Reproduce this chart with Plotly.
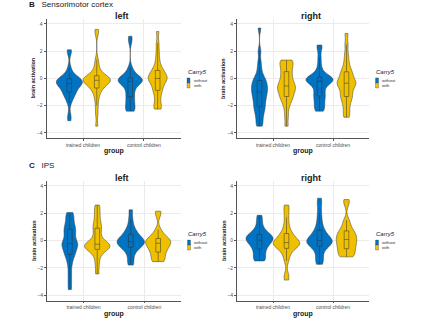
import plotly.graph_objects as go

W, H = 443, 322

groups = ["trained children", "control children"]
carry = ["without", "with"]
colors = {"without": "#0073C2", "with": "#EFC000"}

# Sensorimotor cortex, left
sm_left_trained_without = [-3.1, -2.7, -1.8, -1.5, -1.3, -1.15, -1.05, -0.95, -0.85, -0.7, -0.6, -0.5, -0.45, -0.4,
                           -0.35, -0.3, -0.25, -0.2, -0.15, -0.1, -0.05, 0.0, 0.05, 0.2, 0.4, 0.8, 1.9, 2.1]
sm_left_trained_with = [-3.5, -2.6, -2.0, -1.5, -1.2, -0.9, -0.8, -0.7, -0.55, -0.45, -0.35, -0.3, -0.25, -0.2, -0.15,
                        -0.12, -0.1, -0.08, -0.05, 0.0, 0.05, 0.1, 0.2, 0.3, 0.45, 0.7, 1.0, 1.4, 3.3, 3.6]
sm_left_control_without = [-2.4, -2.35, -2.2, -2.0, -1.8, -1.6, -1.4, -1.2, -1.0, -0.8, -0.6, -0.45, -0.35, -0.22,
                           -0.2, -0.18, -0.15, -0.1, -0.05, 0.0, 0.05, 0.1, 0.3, 0.5, 0.8, 2.7, 3.1]
sm_left_control_with = [-2.25, -2.2, -2.0, -1.7, -1.4, -1.1, -0.9, -0.8, -0.6, -0.4, -0.3, -0.2, -0.1, 0.0, 0.05,
                        0.1, 0.15, 0.25, 0.4, 0.55, 0.6, 0.8, 1.1, 1.5, 2.0, 2.6, 3.45]
# Sensorimotor cortex, right
sm_right_trained_without = [-3.5, -3.3, -3.0, -2.7, -2.5, -2.3, -2.1, -2.0, -1.8, -1.6, -1.5, -1.35, -1.2, -1.05,
                            -0.95, -0.85, -0.7, -0.6, -0.5, -0.35, -0.2, -0.1, 0.05, 0.3, 0.7, 1.2, 2.0, 3.7]
sm_right_trained_with = [-3.5, -2.8, -2.2, -1.8, -1.6, -1.4, -1.25, -1.1, -0.95, -0.8, -0.7, -0.6, -0.5, -0.35,
                         -0.2, 0.0, 0.2, 0.4, 0.6, 0.8, 1.0, 1.2, 1.3, 1.35]
sm_right_control_without = [-2.4, -2.3, -2.1, -1.9, -1.7, -1.5, -1.3, -1.2, -1.0, -0.8, -0.6, -0.4, -0.3, -0.2,
                            -0.15, -0.1, -0.08, -0.05, 0.0, 0.05, 0.1, 0.2, 0.5, 0.9, 1.5, 2.2, 2.45]
sm_right_control_with = [-2.85, -2.6, -2.2, -1.9, -1.6, -1.4, -1.3, -1.1, -0.9, -0.7, -0.55, -0.45, -0.35, -0.3,
                         -0.2, -0.05, 0.1, 0.3, 0.45, 0.6, 0.9, 1.3, 1.8, 2.5, 3.3]
# IPS, left
ips_left_trained_without = [-3.6, -3.0, -2.4, -1.8, -1.4, -1.1, -0.95, -0.8, -0.6, -0.45, -0.3, -0.25, -0.2, 0.0,
                            0.2, 0.4, 0.6, 0.75, 0.9, 1.1, 1.3, 1.6, 1.85, 2.05]
ips_left_trained_with = [-2.45, -1.8, -1.3, -0.9, -0.75, -0.65, -0.55, -0.45, -0.4, -0.35, -0.3, -0.25, -0.2, 0.0,
                         0.3, 0.6, 0.9, 1.1, 1.4, 1.8, 2.2, 2.6]
ips_left_control_without = [-1.8, -1.5, -1.1, -0.8, -0.6, -0.5, -0.4, -0.3, -0.2, -0.15, -0.1, -0.05, 0.0, 0.1,
                            0.2, 0.3, 0.45, 0.6, 0.8, 1.1, 1.6, 2.25]
ips_left_control_with = [-1.55, -1.5, -1.4, -1.2, -1.0, -0.85, -0.7, -0.6, -0.5, -0.4, -0.25, -0.15, -0.12, -0.08,
                         0.0, 0.1, 0.15, 0.3, 0.5, 0.8, 1.9, 2.15]
# IPS, right
ips_right_trained_without = [-1.5, -1.45, -1.3, -1.1, -0.9, -0.7, -0.55, -0.4, -0.3, -0.15, -0.05, 0.0, 0.05, 0.15,
                             0.2, 0.25, 0.3, 0.4, 0.5, 0.6, 0.8, 1.1, 1.5, 1.85]
ips_right_trained_with = [-2.9, -2.5, -1.5, -1.1, -0.8, -0.6, -0.5, -0.4, -0.3, -0.25, -0.2, -0.15, -0.1, 0.0, 0.1,
                          0.25, 0.4, 0.55, 0.8, 1.2, 1.7, 2.2, 2.6]
ips_right_control_without = [-1.75, -1.5, -1.2, -0.9, -0.6, -0.45, -0.35, -0.25, -0.15, -0.1, -0.05, 0.0, 0.1, 0.2,
                             0.3, 0.45, 0.6, 0.8, 1.1, 1.5, 2.0, 2.6, 3.1]
ips_right_control_with = [-1.2, -1.15, -1.05, -0.9, -0.75, -0.6, -0.45, -0.35, -0.25, -0.1, 0.05, 0.1, 0.2, 0.35,
                          0.5, 0.55, 0.7, 0.9, 1.2, 1.5, 2.7, 3.0]

panel_titles = ["left", "right", "left", "right"]
panel_data = [
    {"without": [sm_left_trained_without, sm_left_control_without],
     "with": [sm_left_trained_with, sm_left_control_with]},
    {"without": [sm_right_trained_without, sm_right_control_without],
     "with": [sm_right_trained_with, sm_right_control_with]},
    {"without": [ips_left_trained_without, ips_left_control_without],
     "with": [ips_left_trained_with, ips_left_control_with]},
    {"without": [ips_right_trained_without, ips_right_control_without],
     "with": [ips_right_trained_with, ips_right_control_with]},
]
y_ticks = [-4, -2, 0, 2, 4]


def px_x(p):
    return p / W


def px_y(p):
    return 1 - p / H


# panel frames in pixels: (left, right, top, bottom)
frames = [(46.5, 180.5, 18.5, 138.4), (237.0, 369.0, 18.5, 138.4),
          (47.0, 181.0, 180.5, 300.5), (237.0, 369.0, 180.5, 300.5)]

fig = go.Figure()
axis_font = dict(family="Liberation Sans, Arial", size=5, color="#4D4D4D")

for i, (data, frame) in enumerate(zip(panel_data, frames)):
    k = "" if i == 0 else str(i + 1)
    for c in carry:
        xs, ys = [], []
        for g, vals in zip(groups, data[c]):
            xs += [g] * len(vals)
            ys += vals
        fig.add_trace(go.Violin(
            x=xs, y=ys, name=c, xaxis="x" + k, yaxis="y" + k,
            alignmentgroup="p" + str(i), offsetgroup=c,
            fillcolor=colors[c], line=dict(color="#3A3A3A", width=0.5), opacity=1,
            scalegroup="p" + str(i), scalemode="width", spanmode="hard", bandwidth=0.3,
            points=False, showlegend=False, hoverinfo="skip",
            box=dict(visible=True, width=0.17, fillcolor="rgba(0,0,0,0)",
                     line=dict(color="#333333", width=0.5)),
            meanline=dict(visible=False),
        ))
    l, r, t, b = frame
    fig.update_layout(**{
        "xaxis" + k: dict(domain=[px_x(l), px_x(r)], anchor="y" + k, type="category",
                          categoryorder="array", categoryarray=groups, range=[-0.6, 1.6],
                          showline=True, linecolor="#555555", linewidth=0.7, mirror=False,
                          showgrid=True, gridcolor="#EBEBEB", gridwidth=0.5,
                          ticks="outside", ticklen=2, tickcolor="#555555", tickwidth=0.5,
                          tickfont=axis_font, zeroline=False, fixedrange=True),
        "yaxis" + k: dict(domain=[px_y(b), px_y(t)], anchor="x" + k, range=[-4.4, 4.4],
                          tickvals=y_ticks, showline=True, linecolor="#555555", linewidth=0.7,
                          showgrid=True, gridcolor="#EBEBEB", gridwidth=0.5,
                          ticks="outside", ticklen=2, tickcolor="#555555", tickwidth=0.5,
                          tickfont=axis_font, zeroline=False, fixedrange=True),
    })

annotations = []
shapes = []
font = "Liberation Sans, Arial"
for i, frame in enumerate(frames):
    l, r, t, b = frame
    cx = (l + r) / 2
    cy = (t + b) / 2
    annotations.append(dict(text="<b>%s</b>" % panel_titles[i], x=px_x(cx + 8), y=px_y(t - 3),
                            xref="paper", yref="paper", showarrow=False, xanchor="center", yanchor="middle",
                            font=dict(family=font, size=9, color="#1A1A1A")))
    annotations.append(dict(text="<b>brain activation</b>", x=px_x(l - 13.5), y=px_y(cy),
                            xref="paper", yref="paper", showarrow=False, textangle=-90,
                            xanchor="center", yanchor="middle",
                            font=dict(family=font, size=5.5, color="#1A1A1A")))
    annotations.append(dict(text="<b>group</b>", x=px_x(cx), y=px_y(b + 13),
                            xref="paper", yref="paper", showarrow=False, xanchor="center", yanchor="middle",
                            font=dict(family=font, size=7, color="#1A1A1A")))
    # legend
    lx = r + 5
    annotations.append(dict(text="<i>Carry5</i>", x=px_x(lx), y=px_y(cy - 6.5),
                            xref="paper", yref="paper", showarrow=False, xanchor="left", yanchor="middle",
                            font=dict(family=font, size=6, color="#1A1A1A")))
    for j, c in enumerate(carry):
        y0 = cy - 0.5 + 5 * j
        shapes.append(dict(type="rect", xref="paper", yref="paper", x0=px_x(lx + 1.5), x1=px_x(lx + 4.5),
                           y0=px_y(y0), y1=px_y(y0 + 5), fillcolor=colors[c],
                           line=dict(color="#333333", width=0.3)))
        annotations.append(dict(text=c, x=px_x(lx + 6), y=px_y(y0 + 2.5), xref="paper", yref="paper",
                                showarrow=False, xanchor="left", yanchor="middle",
                                font=dict(family=font, size=4.2, color="#333333")))

annotations.append(dict(text="<b>B</b>   Sensorimotor cortex", x=px_x(27), y=px_y(5), xref="paper", yref="paper",
                        showarrow=False, xanchor="left", yanchor="middle",
                        font=dict(family=font, size=8, color="#1A1A1A")))
annotations.append(dict(text="<b>C</b>   IPS", x=px_x(27), y=px_y(165.5), xref="paper", yref="paper",
                        showarrow=False, xanchor="left", yanchor="middle",
                        font=dict(family=font, size=8, color="#1A1A1A")))

fig.update_layout(
    width=W, height=H, margin=dict(l=0, r=0, t=0, b=0),
    paper_bgcolor="white", plot_bgcolor="white",
    violinmode="group", violingap=0.1, violingroupgap=0.0,
    annotations=annotations, shapes=shapes, showlegend=False,
)

fig.write_html("out.html")
